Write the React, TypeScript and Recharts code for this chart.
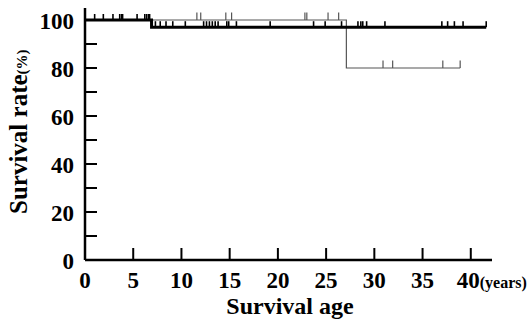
import { LineChart, Line, XAxis, YAxis } from "recharts";

// step points of the thick (black) curve
const thickTime = [0, 6.9, 41.6];
const thickRate = [100, 97, 97];
// censored cases on the thick curve (years)
const thickCensor = [
  1.0, 1.9, 2.9, 3.6, 3.8, 3.9, 5.4, 6.2, 6.4, 6.6, 6.7, 7.3, 7.8, 8.4, 9.1,
  10.4, 12.3, 12.6, 12.9, 13.2, 13.5, 13.8, 14.7, 14.9, 15.7, 19.2, 23.7, 24.9,
  26.6, 28.3, 28.6, 28.8, 29.2, 31.1, 37.0, 37.6, 38.3, 39.2, 41.6,
];

// step points of the thin (grey) curve
const thinTime = [0, 27.1, 38.9];
const thinRate = [100, 80, 80];
const thinCensor = [11.6, 12.0, 14.6, 15.2, 22.8, 23.0, 25.2, 26.3, 30.9, 31.9, 37.1, 38.9];

const xTicks = [0, 5, 10, 15, 20, 25, 30, 35, 40];
const yTicks = [0, 10, 20, 30, 40, 50, 60, 70, 80, 90, 100];

const FONT = "Liberation Serif";

type Pt = { t: number; s: number; c: boolean };

// merge steps + censor marks into one sorted series
function buildCurve(times: number[], rates: number[], censor: number[]): Pt[] {
  const rateAt = (t: number) => {
    let r = rates[0];
    times.forEach((tt, i) => {
      if (tt <= t) r = rates[i];
    });
    return r;
  };
  const pts: Pt[] = times.map((t, i) => ({ t, s: rates[i], c: false }));
  censor.forEach((t) => {
    const hit = pts.find((p) => p.t === t);
    if (hit) hit.c = true;
    else pts.push({ t, s: rateAt(t), c: true });
  });
  return pts.sort((a, b) => a.t - b.t);
}

const thickData = buildCurve(thickTime, thickRate, thickCensor);
const thinData = buildCurve(thinTime, thinRate, thinCensor);

const censorDot = (h: number, w: number, color: string) => (p: any) => {
  const key = `${p.index}-${p.cx}`;
  if (!p.payload?.c) return <g key={key} />;
  return (
    <line key={key} x1={p.cx} x2={p.cx} y1={p.cy} y2={p.cy - h} stroke={color} strokeWidth={w} />
  );
};

const XTick = ({ x, y, payload }: any) => {
  const v = payload.value;
  return (
    <g>
      <line x1={x} x2={x} y1={y} y2={y - 12} stroke="#000" strokeWidth={2} />
      {v === 40 ? (
        <text x={x - 14} y={y + 28} fontFamily={FONT} fontWeight="bold" fontSize={23}>
          40<tspan fontSize={16}>(years)</tspan>
        </text>
      ) : (
        <text x={x} y={y + 28} textAnchor="middle" fontFamily={FONT} fontWeight="bold" fontSize={23}>
          {v}
        </text>
      )}
    </g>
  );
};

const YTick = ({ x, y, payload }: any) => {
  const v = payload.value;
  return (
    <g>
      <line x1={x} x2={x + 12} y1={y} y2={y} stroke="#000" strokeWidth={2} />
      {v % 20 === 0 && (
        <text x={x - 11} y={y + 8.5} textAnchor="end" fontFamily={FONT} fontWeight="bold" fontSize={23}>
          {v}
        </text>
      )}
    </g>
  );
};

export default function App() {
  return (
    <div
      style={{
        position: "absolute",
        left: 0,
        top: 0,
        width: 531,
        height: 320,
        background: "#fff",
        fontFamily: FONT,
      }}
    >
      <LineChart width={531} height={320} margin={{ top: 8, right: 39, bottom: 0, left: 0 }}>
        <XAxis
          type="number"
          dataKey="t"
          domain={[0, 42.2]}
          ticks={xTicks}
          interval={0}
          height={60}
          tickSize={0}
          tickMargin={0}
          tickLine={false}
          axisLine={{ stroke: "#000", strokeWidth: 2.5 }}
          tick={<XTick />}
          allowDataOverflow
        />
        <YAxis
          type="number"
          dataKey="s"
          domain={[0, 105]}
          ticks={yTicks}
          interval={0}
          width={85}
          tickSize={0}
          tickMargin={0}
          tickLine={false}
          axisLine={{ stroke: "#000", strokeWidth: 2.5 }}
          tick={<YTick />}
          allowDataOverflow
        />
        <Line
          data={thinData}
          dataKey="s"
          type="stepAfter"
          stroke="#555"
          strokeWidth={1.2}
          dot={censorDot(7.5, 1.2, "#555")}
          activeDot={false}
          isAnimationActive={false}
        />
        <Line
          data={thickData}
          dataKey="s"
          type="stepAfter"
          stroke="#000"
          strokeWidth={3}
          dot={censorDot(6, 1.6, "#000")}
          activeDot={false}
          isAnimationActive={false}
        />
      </LineChart>
      <svg width={531} height={320} style={{ position: "absolute", left: 0, top: 0, pointerEvents: "none" }}>
        <text transform="translate(27,214) rotate(-90)" fontFamily={FONT} fontWeight="bold" fontSize={25}>
          Survival rate<tspan fontSize={15}>(%)</tspan>
        </text>
        <text x={290} y={314} textAnchor="middle" fontFamily={FONT} fontWeight="bold" fontSize={24}>
          Survival age
        </text>
      </svg>
    </div>
  );
}
